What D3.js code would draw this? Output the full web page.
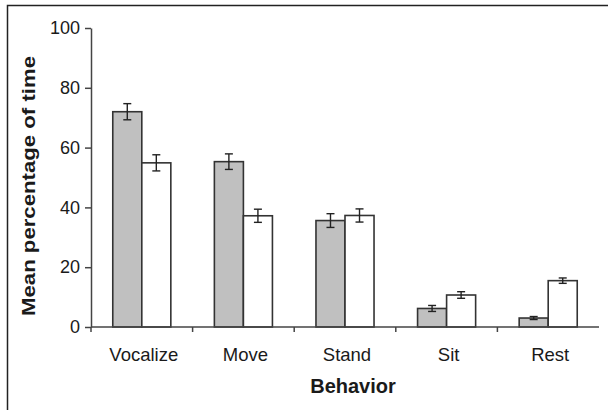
<!DOCTYPE html>
<html>
<head>
<meta charset="utf-8">
<script src="https://cdn.jsdelivr.net/npm/d3@7"></script>
<style>
  html, body { margin: 0; padding: 0; background: #fff; }
  svg { display: block; }
  text { font-family: "Liberation Sans", Arial, sans-serif; fill: #1a1a1a; }
</style>
</head>
<body>
<svg id="chart" width="608" height="410"></svg>
<script>
const categories = ["Vocalize", "Move", "Stand", "Sit", "Rest"];
const series = ["Series 1", "Series 2"];
const values1 = [72, 55.3, 35.6, 6.2, 3.0];
const values2 = [54.9, 37.2, 37.3, 10.7, 15.5];
const errors1 = [2.7, 2.6, 2.3, 1.0, 0.5];
const errors2 = [2.7, 2.2, 2.2, 1.1, 0.9];
const yTicks = [0, 20, 40, 60, 80, 100];

(function () {
const svg = d3.select("#chart");
const W = 608, H = 410;
const mLeft = 91, mRight = 599, mTop = 28, mBottom = 327;

// outer frame (extends past the right/bottom edges)
svg.append("rect")
  .attr("x", 7.5).attr("y", 5.5)
  .attr("width", W).attr("height", H)
  .attr("fill", "none").attr("stroke", "#222").attr("stroke-width", 1.5);

const x = d3.scaleBand().domain(categories).range([mLeft, mRight]).padding(0);
const x1 = d3.scaleBand().domain(series).range([0, x.bandwidth()]).paddingInner(0).paddingOuter(0.75);
const y = d3.scaleLinear().domain([0, 100]).range([mBottom, mTop]);

const data = categories.map((c, i) => ({
  cat: c,
  items: [
    { s: series[0], v: values1[i], e: errors1[i] },
    { s: series[1], v: values2[i], e: errors2[i] }
  ]
}));
const fills = { "Series 1": "#c0c0c0", "Series 2": "#ffffff" };

const groups = svg.append("g").selectAll("g").data(data).join("g")
  .attr("transform", d => `translate(${x(d.cat)},0)`);

groups.selectAll("rect").data(d => d.items).join("rect")
  .attr("x", d => x1(d.s))
  .attr("y", d => y(d.v))
  .attr("width", x1.bandwidth())
  .attr("height", d => y(0) - y(d.v))
  .attr("fill", d => fills[d.s])
  .attr("stroke", "#333").attr("stroke-width", 1.6);

// error bars
const eb = groups.selectAll("g.err").data(d => d.items).join("g").attr("class", "err");
const cap = 4;
eb.append("line")
  .attr("x1", d => x1(d.s) + x1.bandwidth() / 2)
  .attr("x2", d => x1(d.s) + x1.bandwidth() / 2)
  .attr("y1", d => y(d.v + d.e)).attr("y2", d => y(d.v - d.e))
  .attr("stroke", "#222").attr("stroke-width", 1.4);
eb.append("line")
  .attr("x1", d => x1(d.s) + x1.bandwidth() / 2 - cap)
  .attr("x2", d => x1(d.s) + x1.bandwidth() / 2 + cap)
  .attr("y1", d => y(d.v + d.e)).attr("y2", d => y(d.v + d.e))
  .attr("stroke", "#222").attr("stroke-width", 1.4);
eb.append("line")
  .attr("x1", d => x1(d.s) + x1.bandwidth() / 2 - cap)
  .attr("x2", d => x1(d.s) + x1.bandwidth() / 2 + cap)
  .attr("y1", d => y(d.v - d.e)).attr("y2", d => y(d.v - d.e))
  .attr("stroke", "#222").attr("stroke-width", 1.4);

// y axis
const yAxis = svg.append("g").attr("transform", `translate(${mLeft},0)`)
  .call(d3.axisLeft(y).tickValues(yTicks).tickSize(6).tickSizeOuter(0).tickPadding(5));
yAxis.select(".domain").attr("stroke", "#444").attr("stroke-width", 1.5);
yAxis.selectAll(".tick line").attr("stroke", "#444").attr("stroke-width", 1.5);
yAxis.selectAll(".tick text").attr("font-size", 18).attr("font-family", "Liberation Sans, Arial, sans-serif").attr("fill", "#1a1a1a");

// x axis: ticks at band boundaries
const boundaries = categories.map(c => x(c));
const xAxisG = svg.append("g");
xAxisG.append("line")
  .attr("x1", mLeft).attr("x2", mRight).attr("y1", mBottom).attr("y2", mBottom)
  .attr("stroke", "#444").attr("stroke-width", 1.5);
xAxisG.selectAll("line.tk").data(boundaries).join("line").attr("class", "tk")
  .attr("x1", d => d).attr("x2", d => d).attr("y1", mBottom).attr("y2", mBottom + 5)
  .attr("stroke", "#444").attr("stroke-width", 1.5);
xAxisG.selectAll("text").data(categories).join("text")
  .attr("x", d => x(d) + x.bandwidth() / 2 + 2)
  .attr("y", 361)
  .attr("text-anchor", "middle")
  .attr("font-size", 18.5)
  .text(d => d);

// axis titles
svg.append("text")
  .attr("x", 353).attr("y", 393)
  .attr("text-anchor", "middle")
  .attr("font-size", 20).attr("font-weight", "bold")
  .text("Behavior");

svg.append("text")
  .attr("transform", "translate(35,186) rotate(-90)")
  .attr("text-anchor", "middle")
  .attr("font-size", 18).attr("font-weight", "bold")
  .attr("textLength", 260).attr("lengthAdjust", "spacingAndGlyphs")
  .text("Mean percentage of time");
})();
</script>
</body>
</html>
